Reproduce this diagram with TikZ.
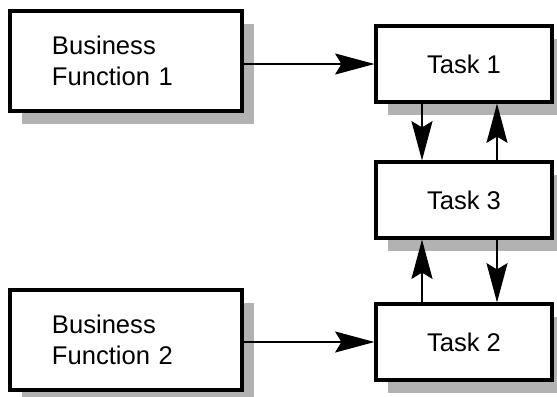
\documentclass[tikz,border=0pt]{standalone}
\usepackage{fontspec}
\setmainfont{Liberation Sans}
\usetikzlibrary{arrows.meta,shadows}
\tikzset{
  taskbox/.style={draw, line width=2.2pt, fill=white, inner sep=0pt,
    minimum width=4.4cm, minimum height=1.9cm,
    general shadow={draw=none, fill=black!30, shadow xshift=0.3cm, shadow yshift=-0.325cm}},
  funcbox/.style={taskbox, minimum width=5.8cm, minimum height=2.5cm,
    text width=3.7cm, align=left, inner xsep=1.05cm},
  flow/.style={line width=0.9pt, -{Stealth[length=28pt,width=15pt,inset=4.5pt]}}
}
\begin{document}
\begin{tikzpicture}[x=0.025cm,y=-0.025cm,font=\fontsize{18.2pt}{22pt}\selectfont]
      \useasboundingbox (0,0) rectangle (557,396);
      \draw
        (126,61) node[funcbox] (bf1){Business\\Function 1}
        (126,340) node[funcbox] (bf2){Business\\Function 2}
        (464,64) node[taskbox] (task1){Task 1}
        (464,200) node[taskbox] (task3){Task 3}
        (464,342) node[taskbox] (task2){Task 2};
      \begin{scope}[flow]
        \draw (bf1.east |- task1.west) to (task1.west);
        \draw (bf2.east |- task2.west) to (task2.west);
        \draw ([xshift=-1.05cm]task1.south) to ([xshift=-1.05cm]task3.north);
        \draw ([xshift=0.825cm]task3.north) to ([xshift=0.825cm]task1.south);
        \draw ([xshift=-1.05cm]task2.north) to ([xshift=-1.05cm]task3.south);
        \draw ([xshift=0.825cm]task3.south) to ([xshift=0.825cm]task2.north);
      \end{scope}
    \end{tikzpicture}
\end{document}
